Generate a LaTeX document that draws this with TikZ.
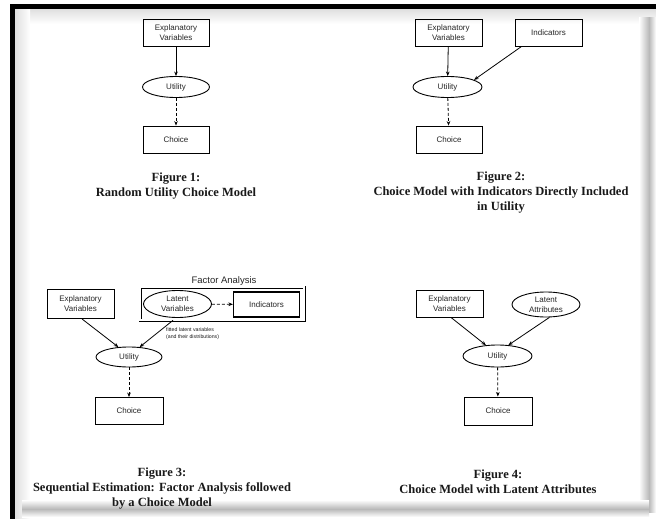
\documentclass[tikz,border=0pt]{standalone}
\usepackage{fontspec}
\setmainfont{Liberation Serif}
\newfontfamily\arialfam{Liberation Sans}
\usetikzlibrary{shapes.geometric,arrows.meta,calc}

\tikzset{
  box/.style={draw, line width=0.9pt, rectangle, align=center, inner sep=0pt,
    font=\arialfam\fontsize{8}{10}\selectfont, text=black!85},
  oval/.style={draw, line width=0.9pt, ellipse, align=center, inner sep=0pt,
    font=\arialfam\fontsize{8}{10}\selectfont, text=black!85},
  arr/.style={-{Stealth[length=4.5pt,width=3.6pt]}, line width=0.8pt},
  darr/.style={arr, dash pattern=on 3pt off 2pt},
  caption/.style={align=center, inner sep=0pt,
    font=\bfseries\fontsize{12.5}{15}\selectfont, text=black!90},
  note/.style={align=left, inner sep=0pt,
    font=\arialfam\fontsize{5.2}{7}\selectfont, text=black!90},
}

\begin{document}
\begin{tikzpicture}[x=1pt,y=-1pt]
  \useasboundingbox (0,0) rectangle (656,519);
  \fill[white] (0,0) rectangle (656,519);

  % soft inner shading of the page under the frame
  \shade[top color=gray!25, bottom color=white] (15,9) rectangle (656,24);
  \shade[left color=gray!25, right color=white] (15,9) rectangle (30,519);
  % drop shadow along the right and bottom of the page
  \shade[left color=white, right color=gray!55] (639,18) rectangle (649,512);
  \shade[left color=gray!55, right color=white] (649,18) rectangle (656,512);
  \shade[top color=white, bottom color=gray!55] (22,500) rectangle (649,509);
  \shade[top color=gray!55, bottom color=white] (22,509) rectangle (649,517);
  % black frame on top and left
  \fill[black] (10,4) rectangle (656,9);
  \fill[black] (10,4) rectangle (15,519);

  % ---- Figure 1 ----
  \node[box, minimum width=66pt, minimum height=27pt] (e1) at (176,32.5) {Explanatory\\Variables};
  \node[oval, minimum width=67pt, minimum height=21pt] (u1) at (176,87) {Utility};
  \node[box, minimum width=66pt, minimum height=27pt] (c1) at (176,139.5) {Choice};
  \draw[arr] (e1) -- (u1);
  \draw[darr] (u1) -- (c1);
  \node[caption] (f1) at (176,186) {Figure 1:\\Random Utility Choice Model};

  % ---- Figure 2 ----
  \node[box, minimum width=67pt, minimum height=27pt] (e2) at (448.5,32.5) {Explanatory\\Variables};
  \node[box, minimum width=67pt, minimum height=27pt] (i2) at (548.5,32.5) {Indicators};
  \node[oval, minimum width=69pt, minimum height=21pt] (u2) at (447.5,87) {Utility};
  \node[box, minimum width=66pt, minimum height=27pt] (c2) at (449,139.5) {Choice};
  \draw[arr] (e2) -- (u2);
  \draw[arr] ([xshift=7pt]i2.south west) -- (u2.15);
  \draw[darr] (u2) -- (c2);
  \node[caption] (f2) at (501,193) {Figure 2:\\Choice Model with Indicators Directly Included\\in Utility};

  % ---- Figure 3 ----
  \node[draw, double, double distance=1.6pt, line width=0.7pt, rectangle,
        minimum width=164pt, minimum height=33pt, inner sep=0pt] (fa) at (222,303.5) {};
  \node[font=\arialfam\fontsize{9.5}{11}\selectfont, text=black!85, inner sep=0pt] (fat) at (224,281) {Factor Analysis};
  \node[oval, minimum width=68pt, minimum height=27pt] (l3) at (177.5,304) {Latent\\Variables};
  \node[box, line width=1.1pt, minimum width=66pt, minimum height=25pt] (i3) at (266.5,304.5) {Indicators};
  \draw[darr] (l3) -- (i3);
  \node[box, minimum width=67pt, minimum height=29pt] (e3) at (80.5,304) {Explanatory\\Variables};
  \node[oval, minimum width=66pt, minimum height=20pt] (u3) at (129,357) {Utility};
  \node[box, minimum width=68pt, minimum height=27pt] (c3) at (129,411) {Choice};
  \coordinate (fs) at ([xshift=-49pt]fa.south);
  \draw[arr] ([xshift=1.5pt]e3.south) -- (u3.137);
  \draw[arr] (fs) -- (u3.43);
  \node[note, anchor=north west] (fl) at (166,327.5) {fitted latent variables\\(and their distributions)};
  \draw[darr] (u3) -- (c3);
  \node[caption] (f3) at (162,489) {Figure 3:\\Sequential Estimation: Factor Analysis followed\\by a Choice Model};

  % ---- Figure 4 ----
  \node[box, minimum width=67pt, minimum height=27pt] (e4) at (449.5,303.5) {Explanatory\\Variables};
  \node[oval, minimum width=68pt, minimum height=25pt] (la4) at (546,304.5) {Latent\\Attributes};
  \node[oval, minimum width=69pt, minimum height=22pt] (u4) at (497.5,356) {Utility};
  \node[box, minimum width=68pt, minimum height=28pt] (c4) at (498,411) {Choice};
  \draw[arr] ([xshift=1.5pt]e4.south) -- (u4.137);
  \draw[arr] (la4.-75) -- (u4.45);
  \draw[darr] (u4) -- (c4);
  \node[caption] (f4) at (498,481.5) {Figure 4:\\Choice Model with Latent Attributes};
\end{tikzpicture}
\end{document}
